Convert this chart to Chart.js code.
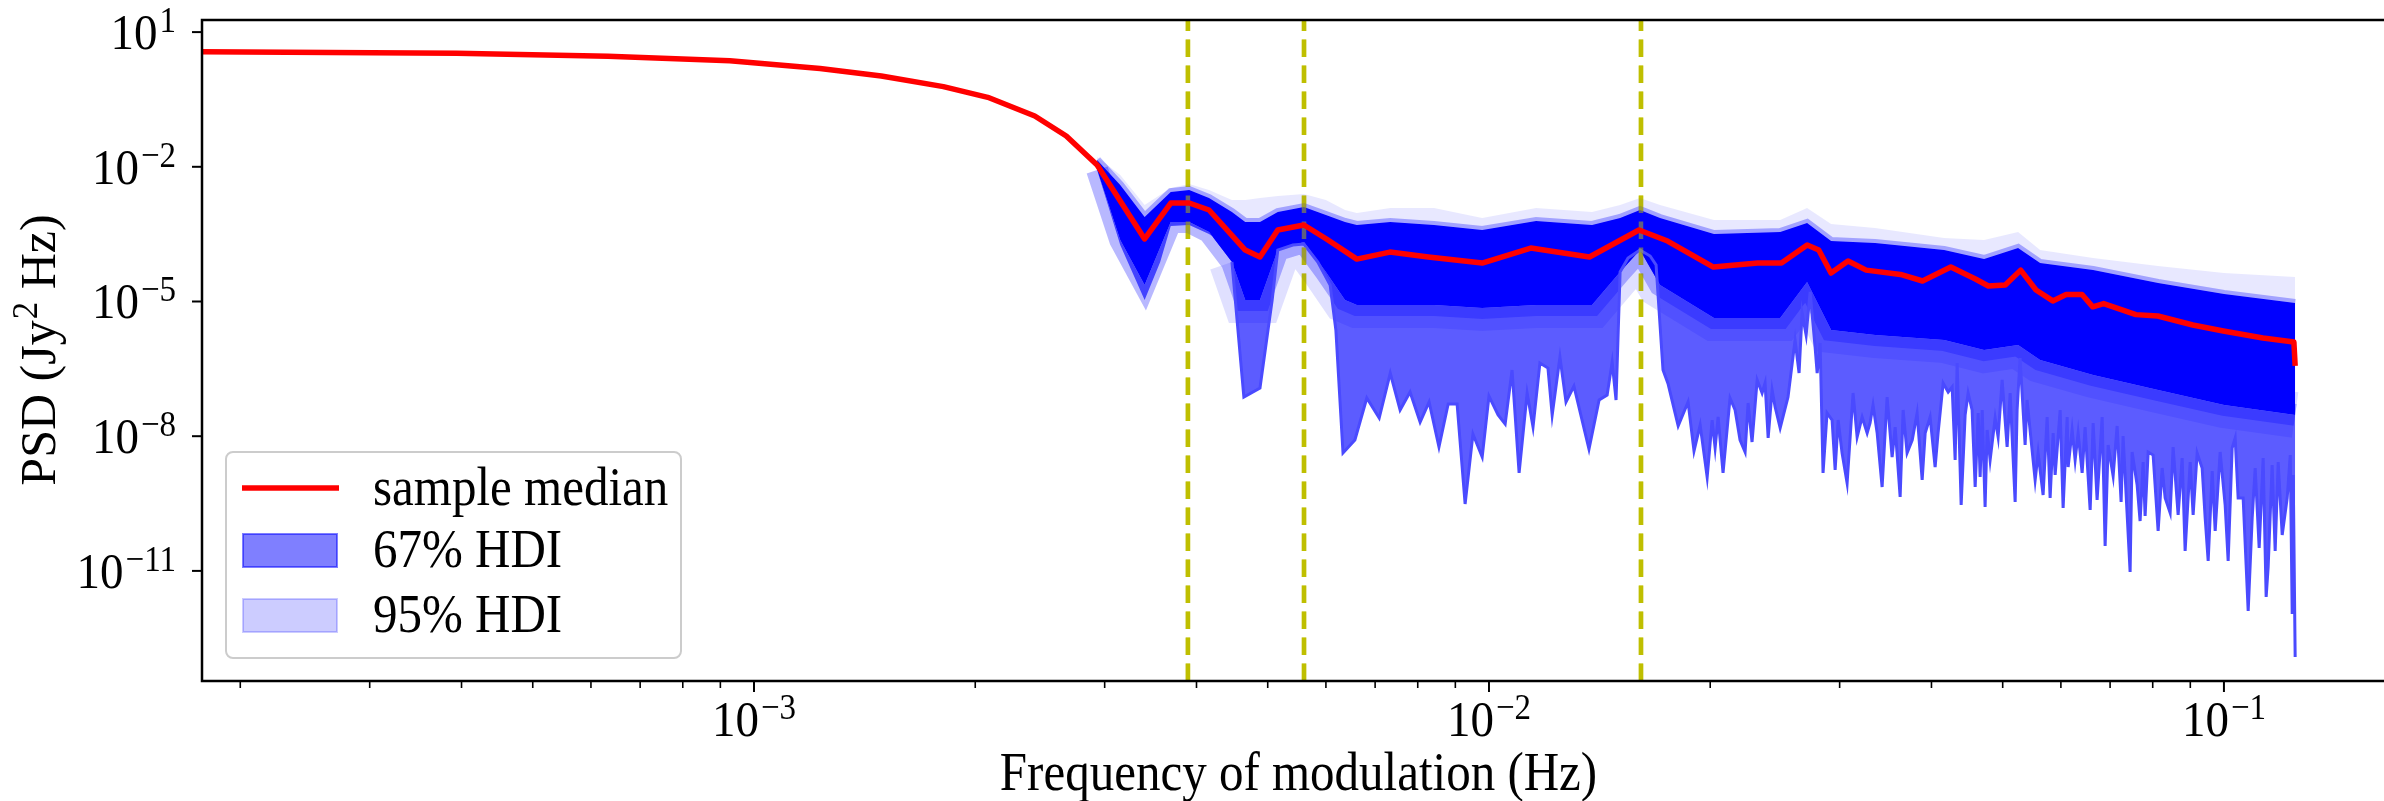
<!DOCTYPE html>
<html><head><meta charset="utf-8">
<script src="https://cdn.jsdelivr.net/npm/chart.js@4.4.1/dist/chart.umd.min.js"></script>
<style>
html,body{margin:0;padding:0;overflow:hidden;background:#fff;width:2384px;height:801px}
#wrap{position:absolute;left:0;top:0;width:2400px;height:801px}
</style></head>
<body><div id="wrap"><canvas id="c" width="2400" height="801" style="width:2400px;height:801px"></canvas></div>
<script>
// ---------------- data ----------------
const medianFreq = [1.7e-4, 3.94e-4, 6.33e-4, 9.27e-4, 1.23e-3, 1.49e-3, 1.81e-3, 2.08e-3, 2.41e-3, 2.66e-3, 2.93e-3, 3.40e-3, 3.69e-3, 3.91e-3, 4.16e-3, 4.66e-3, 4.88e-3, 5.16e-3, 5.60e-3, 6.01e-3, 6.61e-3, 7.33e-3, 8.27e-3, 9.79e-3, 1.14e-2, 1.37e-2, 1.60e-2, 1.75e-2, 2.02e-2, 2.32e-2, 2.50e-2, 2.71e-2, 2.81e-2, 2.92e-2, 3.08e-2, 3.26e-2, 3.63e-2, 3.89e-2, 4.25e-2, 4.59e-2, 4.78e-2, 5.04e-2, 5.29e-2, 5.55e-2, 5.85e-2, 6.10e-2, 6.41e-2, 6.63e-2, 6.86e-2, 7.59e-2, 8.13e-2, 9.07e-2, 9.98e-2, 0.113, 0.123, 0.1245, 0.125];
const medianPSD = [3.66, 3.39, 2.89, 2.30, 1.55, 1.05, 0.61, 0.353, 0.135, 0.0485, 0.011, 2.47e-4, 1.56e-3, 1.56e-3, 1.09e-3, 1.40e-4, 9.8e-5, 3.91e-4, 5.06e-4, 2.47e-4, 8.8e-5, 1.26e-4, 9.8e-5, 7.2e-5, 1.55e-4, 9.8e-5, 3.91e-4, 2.22e-4, 5.86e-5, 7.2e-5, 7.2e-5, 1.81e-4, 1.40e-4, 4.3e-5, 8.0e-5, 5.0e-5, 4.0e-5, 2.86e-5, 5.86e-5, 3.17e-5, 2.21e-5, 2.33e-5, 5.0e-5, 1.80e-5, 1.03e-5, 1.43e-5, 1.43e-5, 7.6e-6, 9.0e-6, 5.1e-6, 4.75e-6, 3.0e-6, 2.2e-6, 1.54e-6, 1.29e-6, 1.25e-6, 3.7e-7];

const bandFreq = [2.93e-3, 3.15e-3, 3.40e-3, 3.69e-3, 3.91e-3, 4.16e-3, 4.47e-3, 4.66e-3, 4.88e-3, 5.16e-3, 5.60e-3, 6.00e-3, 6.37e-3, 6.61e-3, 7.34e-3, 8.42e-3, 9.79e-3, 1.159e-2, 1.381e-2, 1.508e-2, 1.605e-2, 1.709e-2, 2.024e-2, 2.490e-2, 2.709e-2, 2.921e-2, 3.353e-2, 4.162e-2, 4.717e-2, 5.247e-2, 5.622e-2, 6.638e-2, 8.137e-2, 1.0006e-1, 0.125];
const upper95PSD = [1.65e-2, 6.57e-3, 1.41e-3, 3.37e-3, 4.14e-3, 3.04e-3, 1.82e-3, 1.82e-3, 2.02e-3, 2.24e-3, 2.48e-3, 1.82e-3, 1.09e-3, 9.36e-4, 1.21e-3, 1.21e-3, 7.24e-4, 1.21e-3, 9.85e-4, 1.41e-3, 2.02e-3, 1.41e-3, 6.54e-4, 6.54e-4, 1.21e-3, 5.32e-4, 4.34e-4, 2.60e-4, 2.34e-4, 3.53e-4, 1.40e-4, 9.31e-5, 6.17e-5, 4.31e-5, 3.51e-5];
const upper67PSD = [1.42e-2, 3.93e-3, 7.62e-4, 2.75e-3, 3.04e-3, 2.02e-3, 9.85e-4, 5.90e-4, 5.90e-4, 9.85e-4, 1.27e-3, 8.45e-4, 5.90e-4, 5.06e-4, 5.90e-4, 5.06e-4, 3.91e-4, 6.21e-4, 5.06e-4, 7.24e-4, 1.09e-3, 7.24e-4, 3.19e-4, 3.53e-4, 5.60e-4, 2.23e-4, 2.01e-4, 1.40e-4, 8.84e-5, 1.56e-4, 7.20e-5, 5.03e-5, 2.58e-5, 1.47e-5, 9.26e-6];
const dense67PSD = [8.49e-3, 2.34e-4, 2.33e-5, 5.90e-4, 5.90e-4, 3.53e-4, 7.58e-5, 1.08e-5, 1.08e-5, 1.40e-4, 2.12e-4, 4.54e-5, 1.08e-5, 8.36e-6, 8.36e-6, 8.36e-6, 7.16e-6, 8.36e-6, 8.36e-6, 4.54e-5, 1.40e-4, 2.33e-5, 4.29e-6, 4.29e-6, 2.72e-5, 2.32e-6, 1.79e-6, 1.39e-6, 8.31e-7, 1.07e-6, 4.98e-7, 2.31e-7, 1.07e-7, 4.95e-8, 2.97e-8];

const lowerFreq = [2.93e-3, 3.15e-3, 3.40e-3, 3.57e-3, 3.69e-3, 3.91e-3, 4.16e-3, 4.37e-3, 4.47e-3, 4.64e-3, 4.88e-3, 5.07e-3, 5.16e-3, 5.41e-3, 5.60e-3, 5.85e-3, 6.08e-3, 6.19e-3, 6.33e-3, 6.57e-3, 6.82e-3, 7.09e-3, 7.34e-3, 7.57e-3, 7.81e-3, 8.06e-3, 8.29e-3, 8.55e-3, 8.80e-3, 9.05e-3, 9.28e-3, 9.51e-3, 9.79e-3, 1.000e-2, 1.029e-2, 1.052e-2, 1.075e-2, 1.099e-2, 1.127e-2, 1.148e-2, 1.173e-2, 1.203e-2, 1.219e-2, 1.249e-2, 1.273e-2, 1.305e-2, 1.368e-2, 1.412e-2, 1.448e-2, 1.471e-2, 1.489e-2, 1.508e-2, 1.546e-2, 1.605e-2, 1.657e-2, 1.688e-2, 1.725e-2, 1.753e-2, 1.809e-2, 1.866e-2, 1.901e-2, 1.938e-2, 1.981e-2, 2.012e-2, 2.031e-2, 2.050e-2, 2.082e-2, 2.128e-2, 2.162e-2, 2.196e-2, 2.231e-2, 2.252e-2, 2.280e-2, 2.317e-2, 2.353e-2, 2.375e-2, 2.398e-2, 2.428e-2, 2.451e-2, 2.490e-2, 2.552e-2, 2.609e-2, 2.642e-2, 2.667e-2, 2.701e-2, 2.735e-2, 2.778e-2, 2.796e-2, 2.822e-2, 2.848e-2, 2.884e-2, 2.930e-2, 2.958e-2, 2.986e-2, 3.023e-2, 3.071e-2, 3.129e-2, 3.169e-2, 3.219e-2, 3.270e-2, 3.300e-2, 3.331e-2, 3.374e-2, 3.427e-2, 3.481e-2, 3.536e-2, 3.570e-2, 3.626e-2, 3.660e-2, 3.706e-2, 3.766e-2, 3.824e-2, 3.885e-2, 3.922e-2, 3.983e-2, 4.046e-2, 4.084e-2, 4.149e-2, 4.215e-2, 4.268e-2, 4.308e-2, 4.335e-2, 4.390e-2, 4.445e-2, 4.487e-2, 4.543e-2, 4.587e-2, 4.630e-2, 4.659e-2, 4.689e-2, 4.732e-2, 4.762e-2, 4.807e-2, 4.883e-2, 4.929e-2, 4.991e-2, 5.070e-2, 5.118e-2, 5.199e-2, 5.231e-2, 5.280e-2, 5.364e-2, 5.397e-2, 5.500e-2, 5.535e-2, 5.587e-2, 5.675e-2, 5.747e-2, 5.801e-2, 5.856e-2, 5.893e-2, 5.986e-2, 6.042e-2, 6.119e-2, 6.138e-2, 6.215e-2, 6.274e-2, 6.333e-2, 6.413e-2, 6.473e-2, 6.576e-2, 6.638e-2, 6.721e-2, 6.828e-2, 6.892e-2, 6.957e-2, 7.067e-2, 7.156e-2, 7.246e-2, 7.291e-2, 7.453e-2, 7.500e-2, 7.619e-2, 7.690e-2, 7.763e-2, 7.812e-2, 7.886e-2, 8.010e-2, 8.137e-2, 8.240e-2, 8.318e-2, 8.449e-2, 8.528e-2, 8.663e-2, 8.773e-2, 8.855e-2, 8.996e-2, 9.080e-2, 9.195e-2, 9.340e-2, 9.429e-2, 9.518e-2, 9.639e-2, 9.729e-2, 9.882e-2, 0.10038, 0.10133, 0.10260, 0.10358, 0.10455, 0.10620, 0.10789, 0.10925, 0.11028, 0.11167, 0.11307, 0.11414, 0.11486, 0.11630, 0.11741, 0.11852, 0.12002, 0.12191, 0.12309, 0.12385, 0.12424, 0.125];
const lower95PSD = [8.49e-3, 1.81e-4, 1.08e-5, 7.58e-5, 4.80e-4, 5.06e-4, 3.19e-4, 1.81e-4, 7.58e-5, 7.46e-8, 1.18e-7, 1.08e-5, 1.40e-4, 1.81e-4, 1.91e-4, 7.58e-5, 2.33e-5, 2.32e-6, 4.23e-9, 8.23e-9, 7.09e-8, 2.54e-8, 2.55e-7, 3.83e-8, 9.65e-8, 2.07e-8, 5.78e-8, 5.75e-9, 5.21e-8, 5.21e-8, 3.09e-10, 1.12e-8, 3.44e-9, 7.86e-8, 2.97e-8, 1.87e-8, 2.98e-7, 1.52e-9, 9.17e-8, 1.60e-8, 4.27e-7, 3.30e-7, 2.97e-8, 5.80e-7, 5.78e-8, 1.31e-7, 5.19e-9, 6.40e-8, 8.27e-8, 4.49e-7, 6.40e-8, 4.54e-5, 9.31e-5, 1.40e-4, 1.03e-4, 6.50e-5, 2.98e-7, 1.45e-7, 1.69e-8, 5.78e-8, 4.68e-9, 1.78e-8, 1.23e-9, 2.29e-8, 5.46e-9, 2.68e-8, 1.52e-9, 7.09e-8, 3.83e-8, 8.23e-9, 4.45e-9, 5.49e-8, 7.43e-9, 1.79e-7, 9.17e-8, 1.53e-7, 9.12e-9, 1.07e-7, 4.47e-8, 1.52e-8, 7.46e-8, 1.39e-6, 2.55e-7, 5.54e-6, 1.79e-6, 1.63e-5, 9.69e-7, 2.55e-7, 1.19e-6, 1.52e-9, 3.29e-8, 2.29e-8, 1.77e-9, 2.29e-8, 4.23e-9, 9.06e-10, 9.17e-8, 9.60e-9, 2.68e-8, 1.18e-8, 1.97e-8, 4.95e-8, 1.18e-8, 7.38e-10, 7.46e-8, 3.44e-9, 1.60e-8, 4.42e-10, 3.83e-8, 4.23e-9, 8.23e-9, 3.29e-8, 1.06e-9, 1.18e-8, 2.68e-8, 2.06e-9, 1.18e-8, 1.53e-7, 9.65e-8, 1.25e-7, 2.95e-9, 4.27e-7, 2.93e-10, 2.97e-8, 9.17e-8, 3.83e-8, 7.38e-10, 3.29e-8, 1.23e-9, 3.83e-8, 2.65e-10, 1.38e-8, 2.95e-9, 2.54e-8, 9.60e-9, 1.79e-7, 5.75e-9, 9.17e-8, 3.42e-10, 3.83e-8, 5.51e-7, 6.37e-9, 6.40e-8, 2.95e-9, 1.06e-9, 4.23e-9, 4.90e-10, 2.68e-8, 4.20e-10, 1.18e-8, 1.37e-9, 3.83e-8, 2.51e-10, 2.68e-8, 2.06e-9, 1.38e-8, 2.95e-9, 1.18e-8, 1.52e-9, 1.60e-8, 2.27e-10, 1.97e-8, 3.79e-10, 2.68e-8, 3.58e-11, 6.37e-9, 1.30e-9, 1.69e-8, 3.42e-10, 1.01e-8, 9.45e-12, 4.45e-9, 8.18e-10, 1.29e-10, 2.66e-9, 1.67e-10, 4.45e-9, 3.81e-9, 7.74e-11, 1.96e-9, 4.20e-10, 1.95e-10, 5.75e-9, 1.76e-10, 3.27e-9, 2.77e-11, 2.66e-9, 1.76e-10, 4.23e-9, 1.96e-9, 1.51e-10, 1.66e-11, 1.68e-9, 7.74e-11, 4.45e-9, 2.93e-10, 1.66e-11, 5.46e-9, 9.12e-9, 4.20e-10, 4.20e-10, 1.28e-12, 1.51e-10, 1.96e-9, 3.24e-11, 3.27e-9, 2.62e-12, 1.22e-11, 2.28e-9, 2.77e-11, 2.66e-9, 6.30e-11, 4.20e-10, 3.81e-9, 1.10e-12, 1.37e-9, 1.21e-13];

const markerFreqs = [3.894e-3, 5.602e-3, 1.610e-2];

const xMajorTicks = [1e-3, 1e-2, 1e-1];
const xMajorExps = ['\u22123', '\u22122', '\u22121'];
const xMinorTicks = [2e-4, 3e-4, 4e-4, 5e-4, 6e-4, 7e-4, 8e-4, 9e-4, 2e-3, 3e-3, 4e-3, 5e-3, 6e-3, 7e-3, 8e-3, 9e-3, 2e-2, 3e-2, 4e-2, 5e-2, 6e-2, 7e-2, 8e-2, 9e-2];
const yMajorTicks = [1e1, 1e-2, 1e-5, 1e-8, 1e-11];
const yMajorExps = ['1', '\u22122', '\u22125', '\u22128', '\u221211'];

const legendLabels = ['sample median', '67% HDI', '95% HDI'];
const xTitle = 'Frequency of modulation (Hz)';
const yTitleParts = ['PSD (Jy', '2', ' Hz)'];

// axis limits
const X_MIN = 1.774e-4, X_MAX = 0.1709;
const Y_MIN = 3.53e-14, Y_MAX = 18.6;

// ---------------- styling ----------------
const FONT = '"Liberation Serif", "DejaVu Serif", serif';
const TICK_PX = 47, EXP_PX = 33, TICK_SY = 1.1;
const TITLE_PX = 49, LEG_PX = 49, TEXT_SY = 1.1, YTITLE_PX = 50;
const EDGE_START = 4.47e-3;
const CLEAR = 'rgba(0,0,0,0)';

const pts = (xs, ys) => xs.map((x, i) => ({x, y: ys[i]}));
const vline = (f, color, order) => ({
  data: pts([f, f], [Y_MIN, Y_MAX]), borderColor: color, borderWidth: 4.5,
  borderDash: [17.5, 8.5], fill: false, order, pointRadius: 0, borderCapStyle: 'butt'
});
const lateOnly = c => c.p1.parsed.x <= EDGE_START ? CLEAR : undefined;

const datasets = [
  { label: 'sample median', data: pts(medianFreq, medianPSD), borderColor: '#ff0000', borderWidth: 5.5,
    fill: false, order: 0, borderJoinStyle: 'round', borderCapStyle: 'butt' },
  ...markerFreqs.map(f => vline(f, 'rgba(191,191,0,0.5)', 1)),
  { label: 'lower 95', data: pts(lowerFreq, lower95PSD), borderColor: '#4a4aff', borderWidth: 3,
    fill: false, order: 3, borderJoinStyle: 'miter', segment: { borderColor: lateOnly } },
  { label: '67% HDI', data: pts(bandFreq, dense67PSD), borderColor: 'rgba(0,0,255,0.28)', borderWidth: 22,
    backgroundColor: 'rgba(0,0,255,0.64)', fill: {target: 4}, order: 5 },
  { label: 'soft', data: pts(bandFreq, dense67PSD), borderColor: 'rgba(0,0,255,0.12)', borderWidth: 46,
    fill: false, order: 4, segment: { borderColor: lateOnly } },
  { label: 'upper 67', data: pts(bandFreq, upper67PSD), borderColor: 'rgba(0,0,255,0.3)', borderWidth: 8,
    backgroundColor: '#0000ff', fill: {target: 5}, order: 6 },
  { label: '95% HDI', data: pts(bandFreq, upper95PSD), borderColor: CLEAR, borderWidth: 0,
    backgroundColor: 'rgba(0,0,255,0.09)', fill: {target: 7}, order: 7 },
  ...markerFreqs.map(f => vline(f, '#bfbf00', 9)),
];

function stretchText(ctx, text, x, y, px, sy, align) {
  ctx.save();
  ctx.translate(x, y); ctx.scale(1, sy);
  ctx.font = px + 'px ' + FONT; ctx.textAlign = align; ctx.textBaseline = 'alphabetic';
  ctx.fillText(text, 0, 0);
  ctx.restore();
}

function drawPow(ctx, exp, ax, baseline, align) {
  ctx.font = TICK_PX + 'px ' + FONT;
  const wb = ctx.measureText('10').width;
  ctx.font = EXP_PX + 'px ' + FONT;
  const we = ctx.measureText(exp).width;
  const total = wb + 2 + we;
  const x0 = align === 'right' ? ax - total : ax - total / 2;
  stretchText(ctx, '10', x0, baseline, TICK_PX, TICK_SY, 'left');
  stretchText(ctx, exp, x0 + wb + 2, baseline - 17, EXP_PX, TICK_SY, 'left');
}

function seg(ctx, x1, y1, x2, y2) { ctx.beginPath(); ctx.moveTo(x1, y1); ctx.lineTo(x2, y2); ctx.stroke(); }

const axesPlugin = {
  id: 'mplAxes',
  afterDraw(chart) {
    const {ctx, chartArea: a, scales: {x, y}} = chart;
    ctx.save();
    ctx.fillStyle = '#000'; ctx.strokeStyle = '#000';
    // spines
    ctx.lineWidth = 2.5;
    ctx.beginPath();
    ctx.moveTo(a.right, a.bottom); ctx.lineTo(a.left, a.bottom); ctx.lineTo(a.left, a.top); ctx.lineTo(a.right, a.top);
    ctx.stroke();
    // x ticks
    ctx.lineWidth = 2;
    xMajorTicks.forEach((v, i) => {
      const px = x.getPixelForValue(v);
      seg(ctx, px, a.bottom, px, a.bottom + 11);
      drawPow(ctx, xMajorExps[i], px, a.bottom + 55, 'center');
    });
    ctx.lineWidth = 1.6;
    xMinorTicks.forEach(v => { const px = x.getPixelForValue(v); if (px > a.left && px < a.right) seg(ctx, px, a.bottom, px, a.bottom + 7); });
    // y ticks
    ctx.lineWidth = 2;
    yMajorTicks.forEach((v, i) => {
      const py = y.getPixelForValue(v);
      seg(ctx, a.left - 10, py, a.left, py);
      drawPow(ctx, yMajorExps[i], a.left - 26, py + 17, 'right');
    });
    // x title
    stretchText(ctx, xTitle, (a.left + a.right) / 2, 790, TITLE_PX, TEXT_SY, 'center');
    // y title (rotated, with superscript)
    ctx.save();
    ctx.translate(42, (a.top + a.bottom) / 2);
    ctx.rotate(-Math.PI / 2);
    ctx.font = YTITLE_PX + 'px ' + FONT;
    const w0 = ctx.measureText(yTitleParts[0]).width, w2 = ctx.measureText(yTitleParts[2]).width;
    const supPx = Math.round(YTITLE_PX * 0.7);
    ctx.font = supPx + 'px ' + FONT;
    const w1 = ctx.measureText(yTitleParts[1]).width;
    const sx = -(w0 + w1 + w2) / 2;
    ctx.textAlign = 'left'; ctx.textBaseline = 'alphabetic';
    ctx.font = YTITLE_PX + 'px ' + FONT; ctx.fillText(yTitleParts[0], sx, 13);
    ctx.font = supPx + 'px ' + FONT; ctx.fillText(yTitleParts[1], sx + w0 + 1, -5);
    ctx.font = YTITLE_PX + 'px ' + FONT; ctx.fillText(yTitleParts[2], sx + w0 + w1 + 1, 13);
    ctx.restore();
    // legend
    const L = 226, T = 452, W = 455, H = 206, R = 7;
    ctx.beginPath();
    ctx.moveTo(L + R, T); ctx.arcTo(L + W, T, L + W, T + H, R); ctx.arcTo(L + W, T + H, L, T + H, R);
    ctx.arcTo(L, T + H, L, T, R); ctx.arcTo(L, T, L + W, T, R); ctx.closePath();
    ctx.fillStyle = 'rgba(255,255,255,0.8)'; ctx.fill();
    ctx.strokeStyle = '#cccccc'; ctx.lineWidth = 2; ctx.stroke();
    ctx.strokeStyle = '#ff0000'; ctx.lineWidth = 5.5; seg(ctx, 242, 488, 339, 488);
    ctx.fillStyle = 'rgba(0,0,255,0.5)'; ctx.fillRect(243, 534, 94, 33);
    ctx.strokeStyle = 'rgba(0,0,255,0.5)'; ctx.lineWidth = 2; ctx.strokeRect(243, 534, 94, 33);
    ctx.fillStyle = 'rgba(0,0,255,0.2)'; ctx.fillRect(243, 599, 94, 33);
    ctx.strokeStyle = 'rgba(0,0,255,0.2)'; ctx.strokeRect(243, 599, 94, 33);
    ctx.fillStyle = '#000';
    stretchText(ctx, legendLabels[0], 373, 505, LEG_PX, TEXT_SY, 'left');
    stretchText(ctx, legendLabels[1], 373, 567, LEG_PX, TEXT_SY, 'left');
    stretchText(ctx, legendLabels[2], 373, 632, LEG_PX, TEXT_SY, 'left');
    ctx.restore();
  }
};

new Chart(document.getElementById('c'), {
  type: 'line',
  data: { datasets },
  options: {
    responsive: false, animation: false, devicePixelRatio: 1,
    layout: { padding: { left: 202, top: 20, right: 5, bottom: 120 } },
    plugins: { legend: { display: false }, tooltip: { enabled: false } },
    elements: { point: { radius: 0 }, line: { tension: 0 } },
    scales: {
      x: { type: 'logarithmic', min: X_MIN, max: X_MAX, display: false, bounds: 'data' },
      y: { type: 'logarithmic', min: Y_MIN, max: Y_MAX, display: false, bounds: 'data' }
    }
  },
  plugins: [axesPlugin]
});
</script></body></html>
